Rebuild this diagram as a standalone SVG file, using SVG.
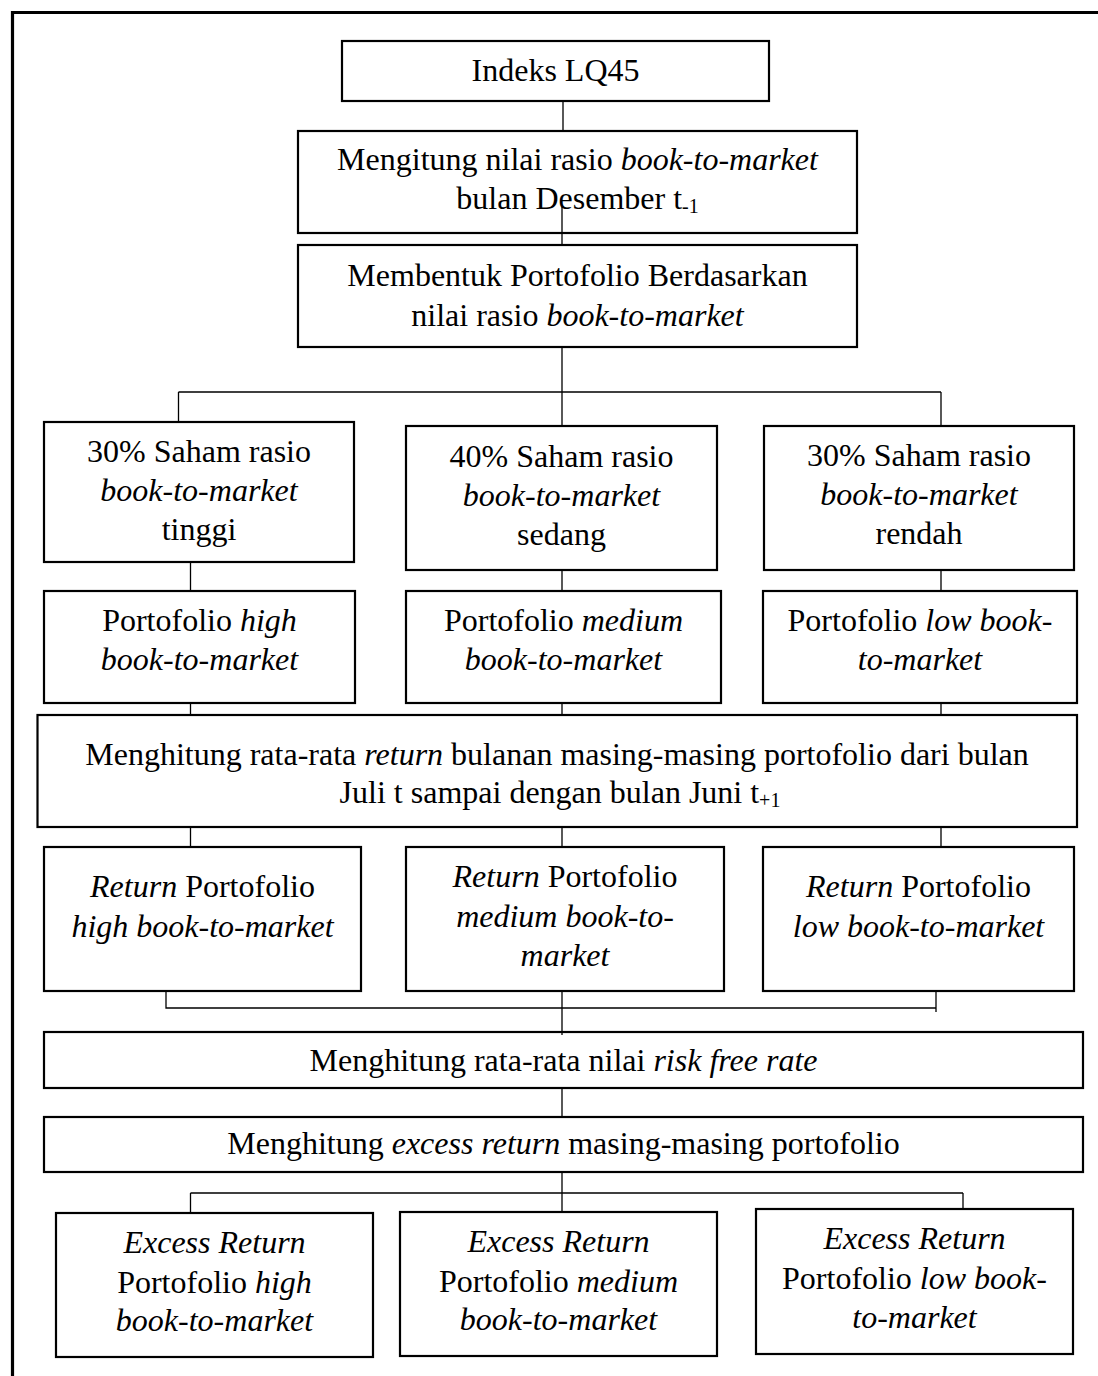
<svg xmlns="http://www.w3.org/2000/svg" width="1098" height="1376" viewBox="0 0 1098 1376">
<style>
.box{fill:#fff;stroke:#000;stroke-width:2.2}
.ln{fill:none;stroke:#000;stroke-width:1.3}
text{font-family:"Liberation Serif","Times New Roman",serif;font-size:32px;fill:#000;text-anchor:middle}
.i{font-style:italic}
.sub{font-size:20px}
</style>
<rect width="1098" height="1376" fill="#fff"/>
<path d="M12.5 1376 V12.5 H1098" fill="none" stroke="#000" stroke-width="3.2"/>
<g id="n1"><rect class="box" x="342" y="41" width="427" height="60"/><text x="555.5" y="81">Indeks LQ45</text></g>
<g id="n2"><rect class="box" x="298" y="131" width="559" height="102"/>
<text x="577.5" y="170">Mengitung nilai rasio <tspan class="i">book-to-market</tspan></text>
<text x="577.5" y="209">bulan Desember t<tspan class="sub" dy="4">-1</tspan></text></g>
<g id="n3"><rect class="box" x="298" y="245" width="559" height="102"/>
<text x="577.5" y="286">Membentuk Portofolio Berdasarkan</text>
<text x="577.5" y="326">nilai rasio <tspan class="i">book-to-market</tspan></text></g>
<g id="a1"><rect class="box" x="44" y="422" width="310" height="140"/>
<text x="199" y="462">30%  Saham rasio</text><text x="199" y="501" class="i">book-to-market</text><text x="199" y="540">tinggi</text></g>
<g id="b1"><rect class="box" x="406" y="426" width="311" height="144"/>
<text x="561.5" y="467">40%  Saham rasio</text><text x="561.5" y="506" class="i">book-to-market</text><text x="561.5" y="545">sedang</text></g>
<g id="c1"><rect class="box" x="764" y="426" width="310" height="144"/>
<text x="919" y="466">30%  Saham rasio</text><text x="919" y="505" class="i">book-to-market</text><text x="919" y="544">rendah</text></g>
<g id="a2"><rect class="box" x="44" y="591" width="311" height="112"/>
<text x="199.5" y="631">Portofolio <tspan class="i">high</tspan></text><text x="199.5" y="670" class="i">book-to-market</text></g>
<g id="b2"><rect class="box" x="406" y="591" width="315" height="112"/>
<text x="563.5" y="631">Portofolio <tspan class="i">medium</tspan></text><text x="563.5" y="670" class="i">book-to-market</text></g>
<g id="c2"><rect class="box" x="763" y="591" width="314" height="112"/>
<text x="920" y="631">Portofolio <tspan class="i">low book-</tspan></text><text x="920" y="670" class="i">to-market</text></g>
<g id="n4"><rect class="box" x="37.5" y="715" width="1039.5" height="112"/>
<text x="557" y="765">Menghitung rata-rata <tspan class="i">return</tspan> bulanan masing-masing portofolio dari bulan</text>
<text x="560" y="803">Juli t sampai dengan bulan Juni t<tspan class="sub" dy="4">+1</tspan></text></g>
<g id="a3"><rect class="box" x="44" y="847" width="317" height="144"/>
<text x="202.5" y="897"><tspan class="i">Return</tspan> Portofolio</text><text x="202.5" y="937" class="i">high book-to-market</text></g>
<g id="b3"><rect class="box" x="406" y="847" width="318" height="144"/>
<text x="565" y="887"><tspan class="i">Return</tspan> Portofolio</text><text x="565" y="927" class="i">medium book-to-</text><text x="565" y="966" class="i">market</text></g>
<g id="c3"><rect class="box" x="763" y="847" width="311" height="144"/>
<text x="918.5" y="897"><tspan class="i">Return</tspan> Portofolio</text><text x="918.5" y="937" class="i">low book-to-market</text></g>
<g id="n5"><rect class="box" x="44" y="1032" width="1039" height="56"/>
<text x="563.5" y="1071">Menghitung rata-rata nilai <tspan class="i">risk free rate</tspan></text></g>
<g id="n6"><rect class="box" x="44" y="1117" width="1039" height="55"/>
<text x="563.5" y="1154">Menghitung <tspan class="i">excess return</tspan> masing-masing portofolio</text></g>
<g id="d1"><rect class="box" x="56" y="1213" width="317" height="144"/>
<text x="214.5" y="1253" class="i">Excess Return</text><text x="214.5" y="1293">Portofolio <tspan class="i">high</tspan></text><text x="214.5" y="1331" class="i">book-to-market</text></g>
<g id="d2"><rect class="box" x="400" y="1212" width="317" height="144"/>
<text x="558.5" y="1252" class="i">Excess Return</text><text x="558.5" y="1292">Portofolio <tspan class="i">medium</tspan></text><text x="558.5" y="1330" class="i">book-to-market</text></g>
<g id="d3"><rect class="box" x="756" y="1209" width="317" height="145"/>
<text x="914.5" y="1249" class="i">Excess Return</text><text x="914.5" y="1289">Portofolio <tspan class="i">low book-</tspan></text><text x="914.5" y="1328" class="i">to-market</text></g>
<g id="connectors">
<path class="ln" d="M563 102 V130 M562 207 V244 M562 348 V425 M178.5 392 H941 M178.5 392 V421 M941 392 V425"/>
<path class="ln" d="M190.5 563 V590 M562 571 V590 M941 571 V590"/>
<path class="ln" d="M190.5 704 V714 M562 704 V714 M941 704 V714"/>
<path class="ln" d="M190.5 828 V846 M562 828 V846 M941 828 V846"/>
<path class="ln" d="M166 992 V1008 H936 M936 992 V1012 M562 992 V1035"/>
<path class="ln" d="M562 1089 V1116 M562 1173 V1211 M190.5 1193 H963 M190.5 1193 V1212 M963 1193 V1208"/>
</g>
</svg>
